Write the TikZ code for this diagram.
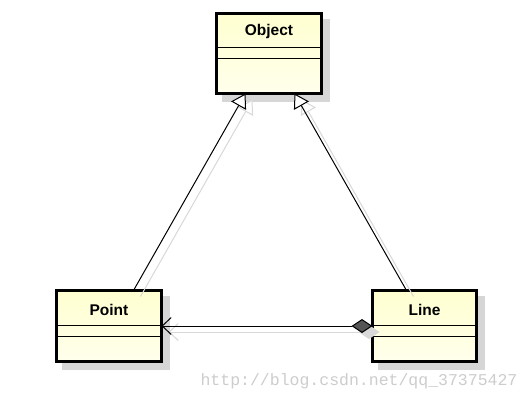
\documentclass[tikz,border=0pt]{standalone}
\usepackage{fontspec}
\setmainfont{Liberation Sans}
\newfontfamily\wmfont{Liberation Mono}
\usetikzlibrary{calc,arrows.meta}
\definecolor{fillA}{RGB}{255,255,208}
\definecolor{fillB}{RGB}{255,255,236}
\definecolor{shadowc}{RGB}{214,214,214}
\definecolor{lineshadow}{RGB}{216,216,216}
\definecolor{wmc}{RGB}{205,205,205}
\definecolor{diam}{RGB}{85,85,85}
\tikzset{
  cls/.style={draw=black, line width=3pt, inner sep=0pt, outer sep=0pt,
    top color=fillA, bottom color=fillB},
  clsshadow/.style={fill=shadowc, draw=none, inner sep=0pt, outer sep=0pt},
  clsname/.style={font=\fontsize{15.5}{18}\selectfont\bfseries, inner sep=0pt},
  divider/.style={line width=1pt},
  gen/.style={line width=1pt, -{Triangle[length=14pt,width=17pt,fill=white]}},
  genshadow/.style={line width=1pt, draw=lineshadow, -{Triangle[length=14pt,width=17pt,fill=white]}},
  agg/.style={line width=1pt, {Diamond[length=21pt,width=14pt,fill=diam]}-{Straight Barb[length=9pt,width=17pt]}},
  aggshadow/.style={line width=1pt, draw=lineshadow, {Diamond[length=21pt,width=14pt,fill=lineshadow]}-{Straight Barb[length=9pt,width=17pt]}},
  wm/.style={font=\wmfont\fontsize{16.5}{18}\selectfont, text=wmc, inner sep=0pt}
}
\begin{document}
\begin{tikzpicture}[x=1pt, y=-1pt]
\useasboundingbox[fill=white] (0,0) rectangle (531,402);
% shadows of boxes
\node[clsshadow, minimum width=108pt, minimum height=83pt] (objectsh) at (276,60.5) {};
\node[clsshadow, minimum width=108pt, minimum height=74pt] (pointsh) at (116,333) {};
\node[clsshadow, minimum width=107pt, minimum height=74pt] (linesh) at (431.5,333) {};
% boxes
\node[cls, minimum width=105pt, minimum height=80pt] (object) at (269,53.5) {};
\node[cls, minimum width=105pt, minimum height=71pt] (point) at (109,326) {};
\node[cls, minimum width=104pt, minimum height=71pt] (line) at (424.5,326) {};
% names
\node[clsname] (objectname) at ($(object.north)+(0,18)$) {Object};
\node[clsname] (pointname) at ($(point.north)+(0,19)$) {Point};
\node[clsname] (linename) at ($(line.north)+(0,19)$) {Line};
% dividers
\draw[divider] ($(object.north west)+(0,34)$) -- ($(object.north east)+(0,34)$);
\draw[divider] ($(object.north west)+(0,45)$) -- ($(object.north east)+(0,45)$);
\draw[divider] ($(point.north west)+(0,35)$) -- ($(point.north east)+(0,35)$);
\draw[divider] ($(point.north west)+(0,46)$) -- ($(point.north east)+(0,46)$);
\draw[divider] ($(line.north west)+(0,35)$) -- ($(line.north east)+(0,35)$);
\draw[divider] ($(line.north west)+(0,46)$) -- ($(line.north east)+(0,46)$);
% connector anchor points
\coordinate (pgen) at ($(point.north west)+(77,0)$);
\coordinate (lgen) at ($(line.north west)+(34,0)$);
\coordinate (ogenl) at ($(object.south west)+(29,0)$);
\coordinate (ogenr) at ($(object.south west)+(78,0)$);
% shadow copies of connector ends
\coordinate (pgens) at ($(pgen)+(7,6)$);
\coordinate (lgens) at ($(lgen)+(7,6)$);
\coordinate (ogenls) at ($(ogenl)+(7,6)$);
\coordinate (ogenrs) at ($(ogenr)+(7,6)$);
\coordinate (lines) at ($(line.west)+(7,6)$);
\coordinate (points) at ($(point.east)+(7,6)$);
% connector shadows
\draw[genshadow] (pgens) -- (ogenls);
\draw[genshadow] (lgens) -- (ogenrs);
\draw[aggshadow] (lines) -- (points);
% connectors
\draw[gen] (pgen) -- (ogenl);
\draw[gen] (lgen) -- (ogenr);
\draw[agg] (line.west) -- (point.east);
% watermark
\node[wm] (watermark) at (359,381) {http://blog.csdn.net/qq\_37375427};
\end{tikzpicture}
\end{document}
